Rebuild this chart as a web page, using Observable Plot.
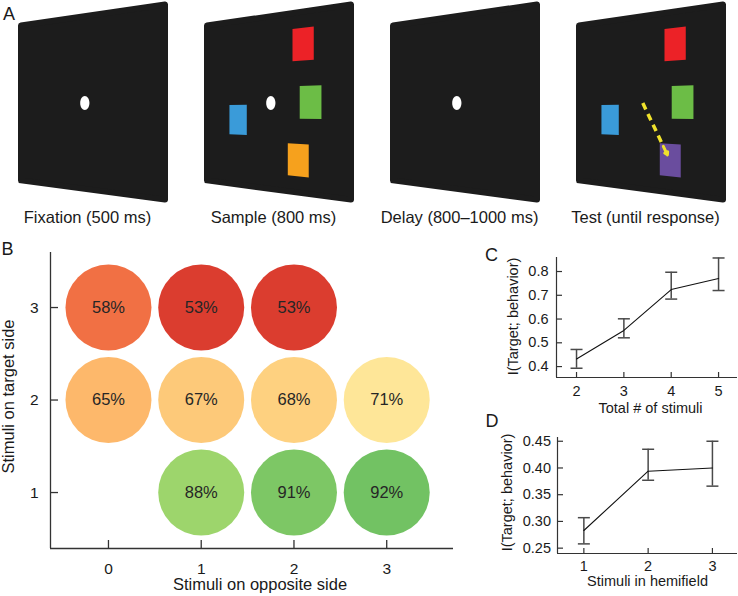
<!DOCTYPE html>
<html>
<head>
<meta charset="utf-8">
<script src="https://cdn.jsdelivr.net/npm/d3@7"></script>
<script src="https://cdn.jsdelivr.net/npm/@observablehq/plot@0.6"></script>
<style>
  body { margin: 0; background: #fff; font-family: "Liberation Sans", Arial, sans-serif; }
  #fig { position: relative; width: 738px; height: 596px; overflow: hidden; background: #fff; }
  .letter { position: absolute; font-size: 18px; line-height: 18px; color: #1a1a1a; }
</style>
</head>
<body>
<div id="fig"></div>
<script>
// ---------------- Panel A data ----------------
const screenLabels = ["Fixation (500 ms)", "Sample (800 ms)", "Delay (800–1000 ms)", "Test (until response)"];
const fixationScreens = [0, 1, 2];
const stimScreen = [1, 1, 1, 1, 3, 3, 3, 3];
const stimColor = ["red square", "green square", "blue square", "orange square", "red square", "green square", "blue square", "purple square"];
const stimS = [0.71, 0.755, 0.27, 0.68, 0.71, 0.755, 0.27, 0.68];   // horizontal screen coordinate (0–1)
const stimT = [0.19, 0.50, 0.60, 0.81, 0.19, 0.50, 0.60, 0.81];    // vertical screen coordinate (0–1)
const saccadeScreen = 3;
const saccadeFrom = [0.5, 0.5];
const saccadeTo = [0.66, 0.78];

// ---------------- Panel B data ----------------
const bOpposite = [0, 1, 2, 0, 1, 2, 3, 1, 2, 3];
const bTarget = [3, 3, 3, 2, 2, 2, 2, 1, 1, 1];
const bCorrect = [58, 53, 53, 65, 67, 68, 71, 88, 91, 92];
const bXTicks = [0, 1, 2, 3];
const bYTicks = [1, 2, 3];

// ---------------- Panel C data ----------------
const cTotal = [2, 3, 4, 5];
const cMean = [0.432, 0.552, 0.724, 0.771];
const cLow = [0.393, 0.521, 0.684, 0.720];
const cHigh = [0.472, 0.601, 0.797, 0.857];
const cYTicks = [0.4, 0.5, 0.6, 0.7, 0.8];

// ---------------- Panel D data ----------------
const dHemi = [1, 2, 3];
const dMean = [0.283, 0.394, 0.400];
const dLow = [0.258, 0.377, 0.366];
const dHigh = [0.307, 0.435, 0.450];
const dYTicks = [0.25, 0.30, 0.35, 0.40, 0.45];

// ---------------- helpers ----------------
const fig = document.getElementById("fig");
const FONT = "Liberation Sans, Arial, Helvetica, sans-serif";
function place(el, left, top) {
  el.style.position = "absolute";
  el.style.left = left + "px";
  el.style.top = top + "px";
  fig.appendChild(el);
}
function letter(txt, left, top) {
  const d = document.createElement("div");
  d.className = "letter";
  d.textContent = txt;
  d.style.left = left + "px";
  d.style.top = top + "px";
  fig.appendChild(d);
}
const capSymbol = { draw(ctx, size) { const r = Math.sqrt(size / Math.PI); ctx.moveTo(-r, 0); ctx.lineTo(r, 0); } };
const ellipseSymbol = {
  draw(ctx, size) {
    const ry = Math.sqrt(size / Math.PI), rx = ry * 0.66, k = 0.5523;
    ctx.moveTo(rx, 0);
    ctx.bezierCurveTo(rx, ry * k, rx * k, ry, 0, ry);
    ctx.bezierCurveTo(-rx * k, ry, -rx, ry * k, -rx, 0);
    ctx.bezierCurveTo(-rx, -ry * k, -rx * k, -ry, 0, -ry);
    ctx.bezierCurveTo(rx * k, -ry, rx, -ry * k, rx, 0);
    ctx.closePath();
  }
};

// ---------------- Panel A ----------------
// screen geometry (perspective quadrilateral of one monitor)
const SCREEN = { slot: 186, x0: 18, x1: 168, tl: 23, tr: 1, bl: 183, br: 203 };
const kk = (SCREEN.bl - SCREEN.tl) / (SCREEN.br - SCREEN.tr);
const H = { a: SCREEN.x1 * kk - SCREEN.x0, b: SCREEN.x0, c: kk - 1, d: SCREEN.tr * kk - SCREEN.tl, e: SCREEN.bl - SCREEN.tl, f: SCREEN.tl };
const px = (i, s) => i * SCREEN.slot + (H.a * s + H.b) / (1 + H.c * s);
const py = (s, t) => (H.d * s + H.e * t + H.f) / (1 + H.c * s);
const STIM_DS = 0.13, STIM_DT = 0.175;

const screenPts = [];
screenLabels.forEach((lab, i) => {
  for (const s of [0, 1]) {
    const xx = SCREEN.x0 + s * (SCREEN.x1 - SCREEN.x0) + (s ? -3 : 3);
    const f = (xx - SCREEN.x0) / (SCREEN.x1 - SCREEN.x0);
    screenPts.push({
      screen: i,
      x: i * SCREEN.slot + xx,
      top: SCREEN.tl + f * (SCREEN.tr - SCREEN.tl) + 3,
      bottom: SCREEN.bl + f * (SCREEN.br - SCREEN.bl) - 3
    });
  }
});
const stimPts = [];
stimScreen.forEach((sc, j) => {
  for (const s of [stimS[j] - STIM_DS / 2, stimS[j] + STIM_DS / 2]) {
    stimPts.push({
      id: j, color: stimColor[j],
      x: px(sc, s), top: py(s, stimT[j] - STIM_DT / 2), bottom: py(s, stimT[j] + STIM_DT / 2)
    });
  }
});
const lerp = (a, b, f) => a + (b - a) * f;
const sac = (f) => { const s = lerp(saccadeFrom[0], saccadeTo[0], f), t = lerp(saccadeFrom[1], saccadeTo[1], f); return [px(saccadeScreen, s), py(s, t)]; };
const sacDash = [{ p1: sac(0), p2: sac(0.78) }];
const sacHead = [{ p1: sac(0.84), p2: sac(1) }];
const YELLOW = "#F0E22C";

const plotA = Plot.plot({
  width: 738, height: 230, margin: 0,
  x: { type: "linear", domain: [0, 738], range: [0, 738] },
  y: { type: "linear", domain: [0, 230], range: [0, 230] },
  axis: null,
  color: { type: "ordinal", domain: ["red square", "green square", "blue square", "orange square", "purple square"], range: ["#EC2227", "#6CBD46", "#3A9BD9", "#F6A11D", "#6A4D9E"] },
  style: { fontFamily: FONT, background: "transparent", overflow: "visible" },
  marks: [
    Plot.areaY(screenPts, { x: "x", y1: "bottom", y2: "top", z: "screen", fill: "#1c1c1c", stroke: "#1c1c1c", strokeWidth: 6, strokeLinejoin: "round" }),
    Plot.areaY(stimPts, { x: "x", y1: "bottom", y2: "top", z: "id", fill: "color" }),
    Plot.dot(fixationScreens, { x: (i) => px(i, 0.5), y: () => py(0.5, 0.5), r: 7, symbol: ellipseSymbol, fill: "white", stroke: "none" }),
    Plot.link(sacDash, { x1: (d) => d.p1[0], y1: (d) => d.p1[1], x2: (d) => d.p2[0], y2: (d) => d.p2[1], stroke: YELLOW, strokeWidth: 3.5, strokeDasharray: "7,5" }),
    Plot.arrow(sacHead, { x1: (d) => d.p1[0], y1: (d) => d.p1[1], x2: (d) => d.p2[0], y2: (d) => d.p2[1], stroke: YELLOW, strokeWidth: 3, headLength: 9 }),
    Plot.text(screenLabels, { text: (d) => d, x: (d, i) => i * SCREEN.slot + (SCREEN.x0 + SCREEN.x1) / 2 - 6, frameAnchor: "bottom", lineAnchor: "middle", textAnchor: "middle", dy: -12.3, fontSize: 16.5, fill: "#1a1a1a" })
  ]
});
place(plotA, 0, 0);

// ---------------- Panel B ----------------
const cells = bOpposite.map((o, i) => ({ opposite: o, target: bTarget[i], pct: bCorrect[i] }));
const bX = [-0.625, 3.72], bY = [0.395, 3.595];
const bW = 460, bH = 366, bM = { top: 22, right: 7, bottom: 48, left: 50 };
const bIW = bW - bM.left - bM.right, bIH = bH - bM.top - bM.bottom;
const AX = "#333";
const plotB = Plot.plot({
  width: bW, height: bH, marginTop: bM.top, marginRight: bM.right, marginBottom: bM.bottom, marginLeft: bM.left,
  x: { domain: bX }, y: { domain: bY },
  color: { type: "linear", scheme: "RdYlGn", domain: [46, 105] },
  style: { fontFamily: FONT, fontSize: "15.5px", color: "#1a1a1a", background: "transparent", overflow: "visible" },
  marks: [
    Plot.dot(cells, { x: "opposite", y: "target", r: 43, fill: "pct" }),
    Plot.text(cells, { x: "opposite", y: "target", text: (d) => `${d.pct}%`, fontSize: 16.5, fill: "#262626" }),
    Plot.ruleY([bY[0]], { stroke: AX, strokeWidth: 1.3 }),
    Plot.ruleX([bX[0]], { stroke: AX, strokeWidth: 1.3 }),
    Plot.ruleX(bXTicks, { x: (d) => d, insetTop: bIH - 8, stroke: AX, strokeWidth: 1.3 }),
    Plot.ruleY(bYTicks, { y: (d) => d, insetRight: bIW - 8, stroke: AX, strokeWidth: 1.3 }),
    Plot.axisX({ ticks: bXTicks, tickSize: 0, tickPadding: 14, label: null, tickFormat: "d", fontSize: 15.5 }),
    Plot.axisY({ ticks: bYTicks, tickSize: 0, tickPadding: 12, label: null, tickFormat: "d", fontSize: 15.5 }),
    Plot.text(["Stimuli on opposite side"], { text: (d) => d, frameAnchor: "bottom", lineAnchor: "middle", textAnchor: "middle", dx: 8, dy: 36.7, fontSize: 16.5, fill: "#1a1a1a" }),
    Plot.text(["Stimuli on target side"], { text: (d) => d, frameAnchor: "left", lineAnchor: "middle", textAnchor: "middle", rotate: -90, dx: -42, dy: -4, fontSize: 16.5, fill: "#1a1a1a" })
  ]
});
place(plotB, 0, 230);

// ---------------- Panel C ----------------
const cData = cTotal.map((n, i) => ({ n, mean: cMean[i], lo: cLow[i], hi: cHigh[i] }));
const cX = [1.577, 5.40], cY = [0.354, 0.859];
const cW = 278, cH = 180, cM = { top: 17, right: 1, bottom: 43, left: 96 };
const cIW = cW - cM.left - cM.right, cIH = cH - cM.top - cM.bottom;
const ERR = "#4a4a4a";
const plotC = Plot.plot({
  width: cW, height: cH, marginTop: cM.top, marginRight: cM.right, marginBottom: cM.bottom, marginLeft: cM.left,
  x: { domain: cX }, y: { domain: cY },
  style: { fontFamily: FONT, fontSize: "14.5px", color: "#1a1a1a", background: "transparent", overflow: "visible" },
  marks: [
    Plot.ruleY([cY[0]], { stroke: AX, strokeWidth: 1.2 }),
    Plot.ruleX([cX[0]], { stroke: AX, strokeWidth: 1.2 }),
    Plot.ruleX(cTotal, { x: (d) => d, insetTop: cIH - 5, stroke: AX, strokeWidth: 1.2 }),
    Plot.ruleY(cYTicks, { y: (d) => d, insetRight: cIW - 6, stroke: AX, strokeWidth: 1.2 }),
    Plot.axisX({ ticks: cTotal, tickSize: 0, tickPadding: 8, label: null, tickFormat: "d", fontSize: 14.5 }),
    Plot.axisY({ ticks: cYTicks, tickSize: 0, tickPadding: 8, label: null, tickFormat: ".1f", fontSize: 14.5 }),
    Plot.ruleX(cData, { x: "n", y1: "lo", y2: "hi", stroke: ERR, strokeWidth: 1.5 }),
    Plot.dot(cData, { x: "n", y: "lo", symbol: capSymbol, r: 6, fill: "none", stroke: ERR, strokeWidth: 1.5 }),
    Plot.dot(cData, { x: "n", y: "hi", symbol: capSymbol, r: 6, fill: "none", stroke: ERR, strokeWidth: 1.5 }),
    Plot.line(cData, { x: "n", y: "mean", stroke: "#111", strokeWidth: 1.1 }),
    Plot.text(["Total # of stimuli"], { text: (d) => d, frameAnchor: "bottom", lineAnchor: "middle", textAnchor: "middle", dx: 3.5, dy: 30.4, fontSize: 14.5, fill: "#1a1a1a" }),
    Plot.text(["I(Target; behavior)"], { text: (d) => d, frameAnchor: "left", lineAnchor: "middle", textAnchor: "middle", rotate: -90, dx: -43, dy: -1, fontSize: 14.5, fill: "#1a1a1a" })
  ]
});
place(plotC, 460, 240);

// ---------------- Panel D ----------------
const dData = dHemi.map((n, i) => ({ n, mean: dMean[i], lo: dLow[i], hi: dHigh[i] }));
const dX = [0.59, 3.39], dY = [0.240, 0.457];
const dW = 278, dH = 176, dM = { top: 17, right: 1, bottom: 43, left: 97 };
const dIW = dW - dM.left - dM.right, dIH = dH - dM.top - dM.bottom;
const plotD = Plot.plot({
  width: dW, height: dH, marginTop: dM.top, marginRight: dM.right, marginBottom: dM.bottom, marginLeft: dM.left,
  x: { domain: dX }, y: { domain: dY },
  style: { fontFamily: FONT, fontSize: "14.5px", color: "#1a1a1a", background: "transparent", overflow: "visible" },
  marks: [
    Plot.ruleY([dY[0]], { stroke: AX, strokeWidth: 1.2 }),
    Plot.ruleX([dX[0]], { stroke: AX, strokeWidth: 1.2 }),
    Plot.ruleX(dHemi, { x: (d) => d, insetTop: dIH - 5, stroke: AX, strokeWidth: 1.2 }),
    Plot.ruleY(dYTicks, { y: (d) => d, insetRight: dIW - 6, stroke: AX, strokeWidth: 1.2 }),
    Plot.axisX({ ticks: dHemi, tickSize: 0, tickPadding: 7, label: null, tickFormat: "d", fontSize: 14.5 }),
    Plot.axisY({ ticks: dYTicks, tickSize: 0, tickPadding: 6.5, label: null, tickFormat: ".2f", fontSize: 14.5 }),
    Plot.ruleX(dData, { x: "n", y1: "lo", y2: "hi", stroke: ERR, strokeWidth: 1.5 }),
    Plot.dot(dData, { x: "n", y: "lo", symbol: capSymbol, r: 6, fill: "none", stroke: ERR, strokeWidth: 1.5 }),
    Plot.dot(dData, { x: "n", y: "hi", symbol: capSymbol, r: 6, fill: "none", stroke: ERR, strokeWidth: 1.5 }),
    Plot.line(dData, { x: "n", y: "mean", stroke: "#111", strokeWidth: 1.1 }),
    Plot.text(["Stimuli in hemifield"], { text: (d) => d, frameAnchor: "bottom", lineAnchor: "middle", textAnchor: "middle", dx: 0, dy: 27.4, fontSize: 14.5, fill: "#1a1a1a" }),
    Plot.text(["I(Target; behavior)"], { text: (d) => d, frameAnchor: "left", lineAnchor: "middle", textAnchor: "middle", rotate: -90, dx: -50, dy: -3, fontSize: 14.5, fill: "#1a1a1a" })
  ]
});
place(plotD, 460, 420);

// panel letters
letter("A", 3, 4.7);
letter("B", 1.6, 239.7);
letter("C", 485, 245.7);
letter("D", 485.5, 411.7);
</script>
</body>
</html>
